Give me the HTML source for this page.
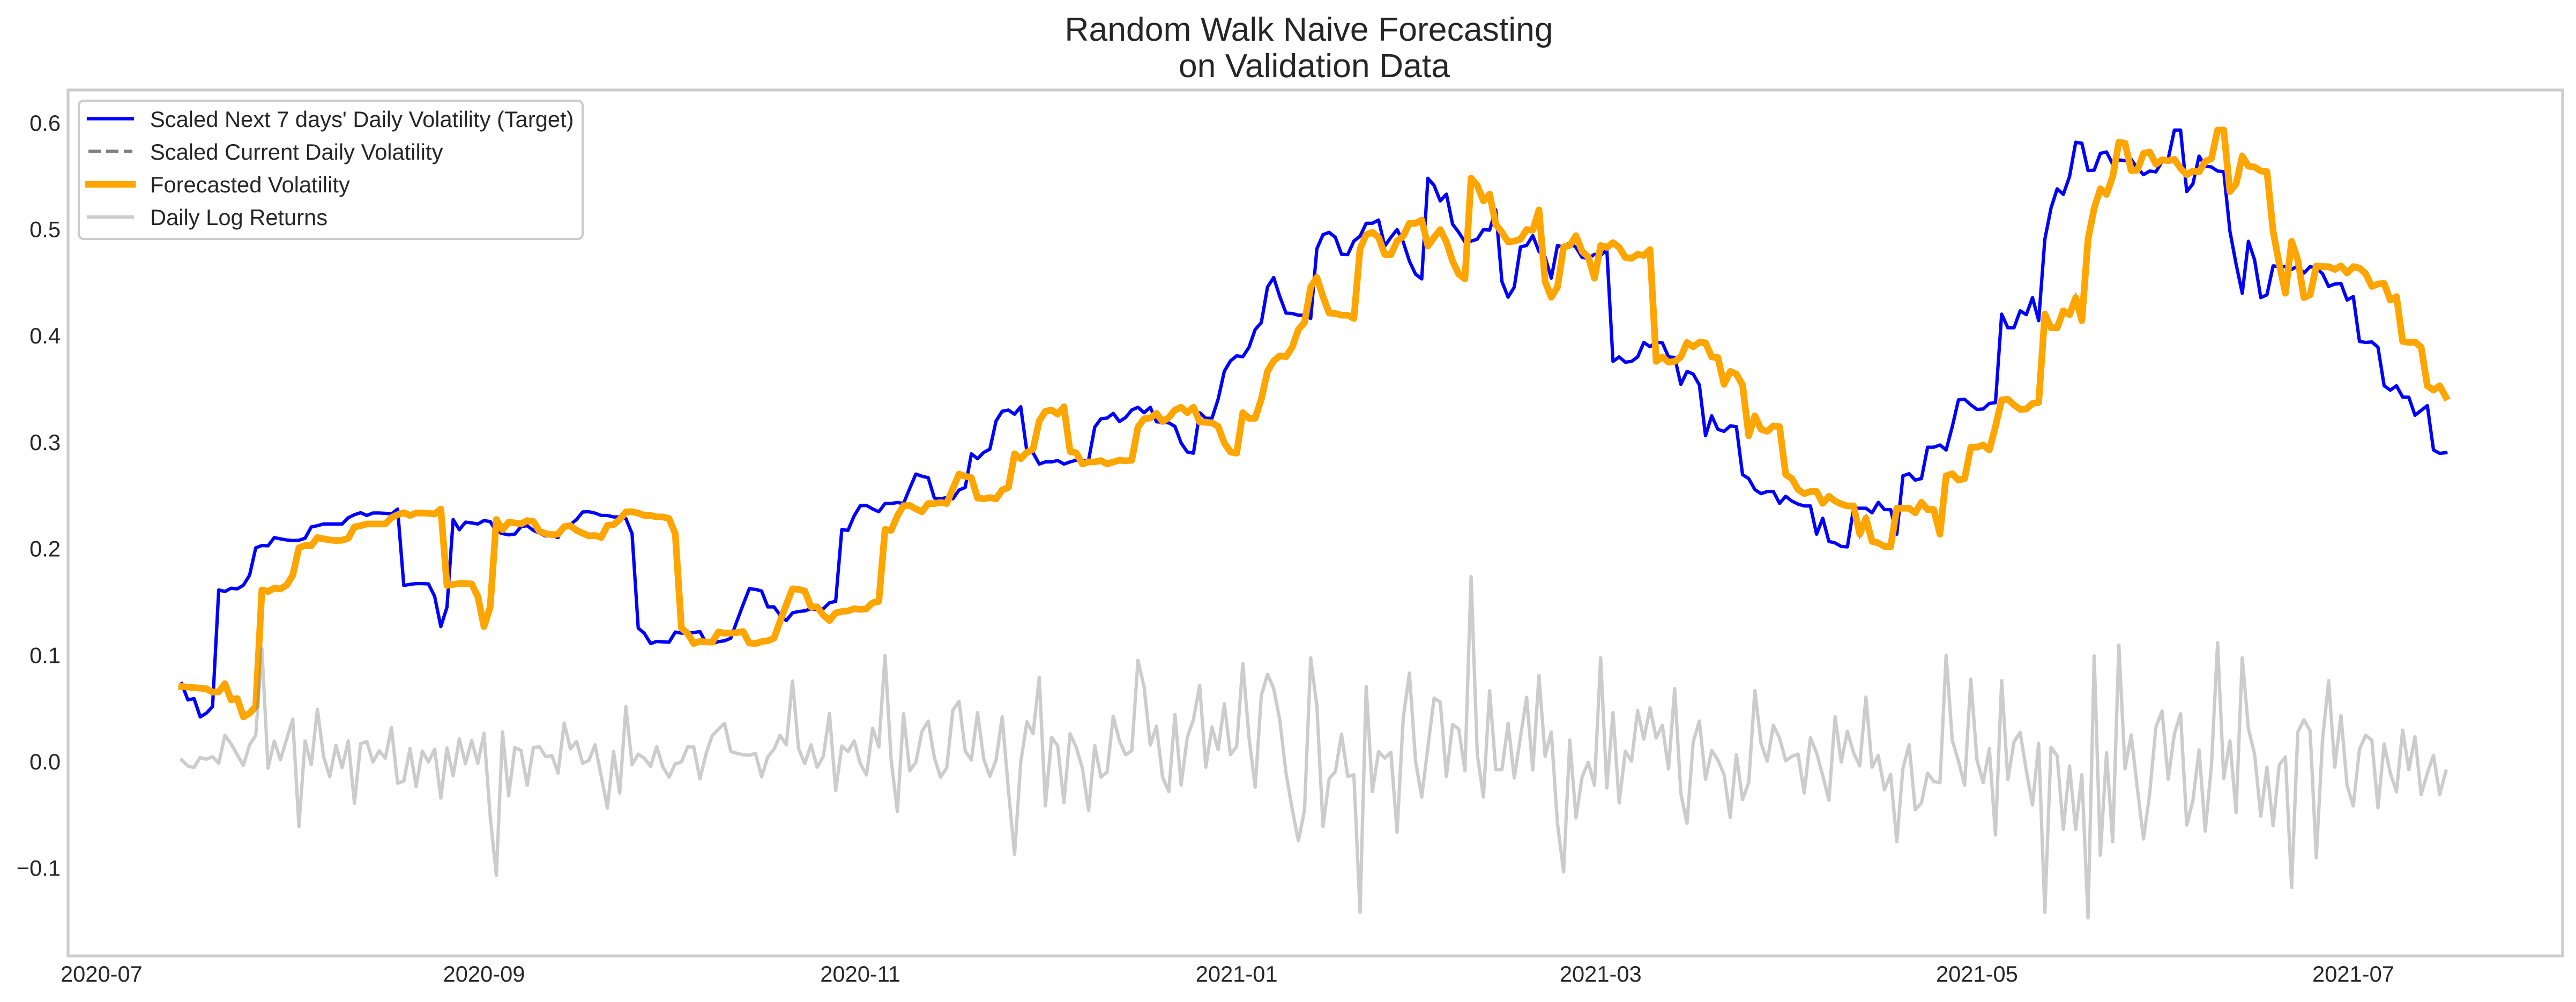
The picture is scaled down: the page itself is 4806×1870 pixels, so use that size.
<!DOCTYPE html>
<html lang="en">
<head>
<meta charset="utf-8">
<title>Random Walk Naive Forecasting on Validation Data</title>
<style>
html,body{margin:0;padding:0;background:#fff;width:4806px;height:1870px;overflow:hidden}
svg{display:block}
text{font-family:"Liberation Sans",Arial,sans-serif;fill:#262626}
</style>
</head>
<body>
<svg id="chart" xmlns="http://www.w3.org/2000/svg" width="4806" height="1870" viewBox="0 0 4806 1870">
  <rect x="0" y="0" width="4806" height="1870" fill="#ffffff"/>
  <g>
    <text x="2442" y="76" font-size="62.5" text-anchor="middle">Random Walk Naive Forecasting</text>
    <text x="2452" y="144" font-size="62.5" text-anchor="middle">on Validation Data</text>
  </g>
  <rect x="127" y="168" width="4654" height="1616" fill="none" stroke="#cccccc" stroke-width="5.2"/>
  <g id="y-ticks"></g>
  <g id="x-ticks"></g>
  <path id="line-target" fill="none" stroke="#0000ff" stroke-width="6.25" stroke-linejoin="round" stroke-linecap="square"/>
  <path id="line-current" fill="none" stroke="#808080" stroke-width="6.25" stroke-dasharray="23,10"/>
  <path id="line-forecast" fill="none" stroke="#ffa500" stroke-width="12.5" stroke-linejoin="round" stroke-linecap="square"/>
  <path id="line-returns" fill="none" stroke="#808080" stroke-opacity="0.4" stroke-width="6.25" stroke-linejoin="round" stroke-linecap="square"/>
  <g>
    <rect x="147" y="188" width="940" height="258" rx="9" ry="9" fill="#ffffff" fill-opacity="0.8" stroke="#cccccc" stroke-width="4.17"/>
    <g>
      <line x1="165" y1="221.5" x2="247" y2="221.5" stroke="#0000ff" stroke-width="6.25" stroke-linecap="square"/>
      <text x="280" y="237" font-size="41.67">Scaled Next 7 days' Daily Volatility (Target)</text>
    </g>
    <g>
      <line x1="165" y1="282.5" x2="247" y2="282.5" stroke="#808080" stroke-width="6.25" stroke-dasharray="23,10"/>
      <text x="280" y="298" font-size="41.67">Scaled Current Daily Volatility</text>
    </g>
    <g>
      <line x1="165" y1="344" x2="247" y2="344" stroke="#ffa500" stroke-width="12.5" stroke-linecap="square"/>
      <text x="280" y="359" font-size="41.67">Forecasted Volatility</text>
    </g>
    <g>
      <line x1="165" y1="405" x2="247" y2="405" stroke="#808080" stroke-opacity="0.4" stroke-width="6.25" stroke-linecap="square"/>
      <text x="280" y="420" font-size="41.67">Daily Log Returns</text>
    </g>
  </g>
</svg>
<script>
const startDate = '2020-07-14';
const xTickLabels = ['2020-07','2020-09','2020-11','2021-01','2021-03','2021-05','2021-07'];
const yTickValues = [-0.1,0,0.1,0.2,0.3,0.4,0.5,0.6];
const yTickLabels = ['\u22120.1','0.0','0.1','0.2','0.3','0.4','0.5','0.6'];
const targetVolatility = [
.072,.0568,.058,.0408,.0443,.0505,.160,.1586,.1617,.161,
.1645,.1738,.1996,.2018,.2015,.2092,.2080,.2070,.2064,.2067,
.2086,.2192,.2204,.2220,.2220,.2220,.2220,.2279,.2307,.2326,
.2300,.2323,.2323,.2320,.2314,.2360,.1643,.1653,.166,.166,
.1657,.154,.1256,.1439,.2262,.2166,.2237,.2230,.2220,.2252,
.2243,.2150,.2130,.2118,.2125,.2195,.2204,.2160,.2133,.2108,
.2112,.2093,.2207,.2213,.2262,.2333,.2335,.2322,.2300,.2300,
.2286,.2286,.2270,.2129,.1243,.1192,.1097,.1117,.1112,.1110,
.1205,.1195,.1195,.12,.121,.1102,.1097,.1115,.1123,.1147,
.1308,.1462,.1611,.1606,.1590,.1441,.1441,.1364,.1313,.1385,
.1398,.1404,.1424,.1417,.1424,.1480,.1493,.2168,.2160,.2296,
.2392,.2394,.2361,.2335,.2412,.2412,.2422,.2412,.2553,.2689,
.2668,.2655,.2464,.2456,.2468,.2456,.2539,.2563,.2879,.2833,
.2892,.2923,.3187,.3279,.3290,.3251,.3321,.2900,.2888,.2783,
.2803,.2803,.2816,.2783,.2803,.2819,.2813,.2819,.3130,.3208,
.3215,.3259,.3182,.322,.3291,.3316,.3265,.3316,.3180,.3175,
.3170,.3136,.2981,.2896,.2885,.3265,.3213,.3213,.3393,.3654,
.3752,.3799,.3791,.3880,.4046,.4112,.4445,.4535,.4355,.4201,
.4197,.4181,.4181,.4150,.4805,.4938,.4959,.4912,.4753,.4750,
.4877,.4923,.5044,.5044,.5075,.4830,.4912,.4985,.4869,.4689,
.4566,.4522,.5467,.5400,.5254,.5318,.5036,.4959,.4869,.4877,
.4895,.4985,.4980,.5170,.4497,.4350,.4445,.4822,.4836,.4928,
.4780,.4727,.4529,.4836,.4818,.4863,.4818,.4723,.4715,.4753,
.4742,.4797,.3747,.3789,.3739,.3747,.3789,.3925,.3885,.3927,
.3922,.3789,.3784,.3531,.3653,.3628,.3526,.3049,.3236,.3109,
.3090,.3141,.3134,.2684,.2646,.2543,.2505,.2525,.2525,.2414,
.2480,.2435,.2407,.2389,.2389,.2124,.2274,.2056,.2042,.2009,
.2005,.2368,.2368,.2368,.2325,.2423,.2355,.2355,.2124,.2672,
.2692,.2632,.2647,.2941,.2941,.2962,.2915,.3135,.3386,.3391,
.3339,.3296,.3300,.3352,.3360,.4191,.4063,.4063,.4222,.4186,
.4346,.4130,.4893,.5187,.5368,.5316,.5483,.5805,.5796,.5540,
.5543,.5701,.5714,.5599,.5640,.5632,.5645,.5560,.5501,.5535,
.5527,.5625,.5650,.5920,.5920,.5342,.5414,.5675,.5581,.5573,
.5535,.5530,.4970,.4661,.4387,.4875,.4700,.4346,.4372,.4644,
.4637,.4637,.4611,.4644,.4577,.4637,.4623,.4572,.4451,.4474,
.4479,.4323,.4356,.3935,.3925,.3930,.3880,.3518,.3477,.3518,
.3412,.3410,.3241,.3287,.3332,.2915,.2883,.2890
];
const forecastVolatility = [
.0693,.0688,.0683,.0678,.0672,.0641,.0643,
.072,.0568,.058,.0408,.0443,.0505,.160,.1586,.1617,.161,
.1645,.1738,.1996,.2018,.2015,.2092,.2080,.2070,.2064,.2067,
.2086,.2192,.2204,.2220,.2220,.2220,.2220,.2279,.2307,.2326,
.2300,.2323,.2323,.2320,.2314,.2360,.1643,.1653,.166,.166,
.1657,.154,.1256,.1439,.2262,.2166,.2237,.2230,.2220,.2252,
.2243,.2150,.2130,.2118,.2125,.2195,.2204,.2160,.2133,.2108,
.2112,.2093,.2207,.2213,.2262,.2333,.2335,.2322,.2300,.2300,
.2286,.2286,.2270,.2129,.1243,.1192,.1097,.1117,.1112,.1110,
.1205,.1195,.1195,.12,.121,.1102,.1097,.1115,.1123,.1147,
.1308,.1462,.1611,.1606,.1590,.1441,.1441,.1364,.1313,.1385,
.1398,.1404,.1424,.1417,.1424,.1480,.1493,.2168,.2160,.2296,
.2392,.2394,.2361,.2335,.2412,.2412,.2422,.2412,.2553,.2689,
.2668,.2655,.2464,.2456,.2468,.2456,.2539,.2563,.2879,.2833,
.2892,.2923,.3187,.3279,.3290,.3251,.3321,.2900,.2888,.2783,
.2803,.2803,.2816,.2783,.2803,.2819,.2813,.2819,.3130,.3208,
.3215,.3259,.3182,.322,.3291,.3316,.3265,.3316,.3180,.3175,
.3170,.3136,.2981,.2896,.2885,.3265,.3213,.3213,.3393,.3654,
.3752,.3799,.3791,.3880,.4046,.4112,.4445,.4535,.4355,.4201,
.4197,.4181,.4181,.4150,.4805,.4938,.4959,.4912,.4753,.4750,
.4877,.4923,.5044,.5044,.5075,.4830,.4912,.4985,.4869,.4689,
.4566,.4522,.5467,.5400,.5254,.5318,.5036,.4959,.4869,.4877,
.4895,.4985,.4980,.5170,.4497,.4350,.4445,.4822,.4836,.4928,
.4780,.4727,.4529,.4836,.4818,.4863,.4818,.4723,.4715,.4753,
.4742,.4797,.3747,.3789,.3739,.3747,.3789,.3925,.3885,.3927,
.3922,.3789,.3784,.3531,.3653,.3628,.3526,.3049,.3236,.3109,
.3090,.3141,.3134,.2684,.2646,.2543,.2505,.2525,.2525,.2414,
.2480,.2435,.2407,.2389,.2389,.2124,.2274,.2056,.2042,.2009,
.2005,.2368,.2368,.2368,.2325,.2423,.2355,.2355,.2124,.2672,
.2692,.2632,.2647,.2941,.2941,.2962,.2915,.3135,.3386,.3391,
.3339,.3296,.3300,.3352,.3360,.4191,.4063,.4063,.4222,.4186,
.4346,.4130,.4893,.5187,.5368,.5316,.5483,.5805,.5796,.5540,
.5543,.5701,.5714,.5599,.5640,.5632,.5645,.5560,.5501,.5535,
.5527,.5625,.5650,.5920,.5920,.5342,.5414,.5675,.5581,.5573,
.5535,.5530,.4970,.4661,.4387,.4875,.4700,.4346,.4372,.4644,
.4637,.4637,.4611,.4644,.4577,.4637,.4623,.4572,.4451,.4474,
.4479,.4323,.4356,.3935,.3925,.3930,.3880,.3518,.3477,.3518,
.3412
];
const currentVolatility = forecastVolatility.slice();
const dailyLogReturns = [
.0004,-.0053,-.0067,.0027,.0010,.0035,-.0028,.0235,.0156,.0052,
-.0048,.0146,.0233,.1047,-.0074,.0181,.0006,.0198,.0386,-.0620,
.0181,-.0038,.0480,.0035,-.0153,.0141,-.0069,.0181,-.0403,.0156,
.0177,-.0015,.0089,.0020,.0308,-.0215,-.0195,.0112,-.0247,.0087,
-.0015,.0104,-.0355,.0116,-.0146,.0202,-.0032,.0187,-.0028,.0254,
-.0522,-.1081,.0267,-.0334,.0119,.0093,-.0236,.0119,.0127,.0035,
.0045,-.0119,.0350,.0108,.0177,-.0028,-.0001,.0146,-.0146,-.0449,
.0083,-.0307,.0505,-.0042,.0058,.0020,-.0057,.0129,-.0063,-.0157,
-.0032,-.0015,.0125,.0125,-.0174,.0062,.0233,.0292,.0348,.0083,
.0066,.0052,.0048,.0066,-.0154,.0032,.0104,.0235,.0145,.0745,
.0109,-.0031,.0145,-.0064,.0037,.0441,-.0284,.0134,.0082,.0183,
-.0031,-.0138,.0302,.0127,.0985,.0003,-.0480,.0437,-.0098,-.0019,
.0273,.0369,.0026,-.0159,-.0071,.0471,.0554,.0089,.0003,.0448,
.0014,-.0150,.0003,.0408,-.0278,-.0884,-.0019,.0363,.0250,.0778,
-.0428,.0217,.0134,-.0397,.0250,.0122,-.0075,-.0469,.0138,-.0159,
-.0109,.0414,.0183,.0053,.0089,.0940,.0689,.0143,.0320,-.0159,
-.0293,.0430,-.0233,.0217,.0385,.0704,-.0064,.0313,.0100,.0531,
.0053,.0131,.0907,.0217,-.0251,.0610,.0808,.0677,.0374,-.0120,
-.0457,-.0756,-.0469,.0963,.0509,-.0621,-.0172,-.0105,.0244,-.0150,
-.0136,-.1428,.0693,-.0293,.0082,.0021,.0075,-.0675,.0396,.0819,
-.0008,-.0345,.0127,.0583,.0547,-.0150,.0336,.0295,-.0098,.1727,
.0059,-.0345,.0655,-.0087,-.0087,.0347,-.0165,.0217,.0592,-.0091,
.0796,.0037,.0266,-.0592,-.1048,.0190,-.0541,-.0154,-.0019,-.0233,
.0963,-.0260,.0448,-.0401,.0086,-.0008,.0468,.0199,.0493,.0210,
.0329,-.0082,.0673,-.0311,-.0592,.0172,.0369,-.0177,.0093,.0003,
-.0132,-.0536,.0053,-.0368,-.0210,.0655,.0160,-.0008,.0329,.0210,
-.0004,.0037,.0059,-.0307,.0212,.0071,-.0143,-.0374,.0408,-.0015,
.0273,.0071,-.0053,.0594,-.0064,.0046,-.0278,-.0132,-.0765,-.0075,
.0145,-.0464,-.0401,-.0120,-.0199,-.0210,.0985,.0187,-.0008,-.0233,
.0763,.0003,-.0210,.0111,-.0700,.0749,-.0181,.0172,.0262,-.0098,
-.0419,.0160,-.1428,.0122,.0041,-.0648,-.0053,-.0648,-.0136,-.1480,
.0981,-.0891,.0071,-.0765,.1082,-.0080,.0239,-.0266,-.0738,-.0311,
.0311,.0464,-.0177,.0250,.0437,-.0608,-.0379,.0098,-.0664,-.0053,
.1104,-.0172,.0183,-.0491,.0963,.0295,.0059,-.0525,-.0064,-.0615,
-.0042,.0032,-.1194,.0266,.0381,.0277,-.0914,.0183,.0749,-.0064,
.0419,-.0239,-.0428,.0104,.0235,.0190,-.0446,.0154,-.0120,-.0296,
.0284,-.0087,.0221,-.0323,-.0120,.0048,-.0323,-.0102
];

const SVG_NS = 'http://www.w3.org/2000/svg';
const DAY_MS = 86400000;
const startMs = Date.parse(startDate + 'T00:00:00Z');
function xByDays(days) { return 339 + 11.51 * days; }
function xByDate(iso) { return xByDays((Date.parse(iso + 'T00:00:00Z') - startMs) / DAY_MS); }
function yByValue(v) { return 1419 - 1987 * v; }
function linePath(values) {
  return values.map(function (v, i) {
    return (i === 0 ? 'M' : 'L') + xByDays(i).toFixed(2) + ' ' + yByValue(v).toFixed(2);
  }).join('');
}
document.getElementById('line-target').setAttribute('d', linePath(targetVolatility));
document.getElementById('line-current').setAttribute('d', linePath(currentVolatility));
document.getElementById('line-forecast').setAttribute('d', linePath(forecastVolatility));
document.getElementById('line-returns').setAttribute('d', linePath(dailyLogReturns));

const yGroup = document.getElementById('y-ticks');
yTickValues.forEach(function (v, i) {
  const el = document.createElementNS(SVG_NS, 'text');
  el.setAttribute('x', 113);
  el.setAttribute('y', (yByValue(v) + 17).toFixed(1));
  el.setAttribute('font-size', '41.67');
  el.setAttribute('text-anchor', 'end');
  
  
  el.textContent = yTickLabels[i];
  yGroup.appendChild(el);
});
const xGroup = document.getElementById('x-ticks');
xTickLabels.forEach(function (label) {
  const el = document.createElementNS(SVG_NS, 'text');
  el.setAttribute('x', xByDate(label + '-01').toFixed(1));
  el.setAttribute('y', 1832);
  el.setAttribute('font-size', '41.67');
  el.setAttribute('text-anchor', 'middle');
  
  
  el.textContent = label;
  xGroup.appendChild(el);
});
</script>
</body>
</html>
